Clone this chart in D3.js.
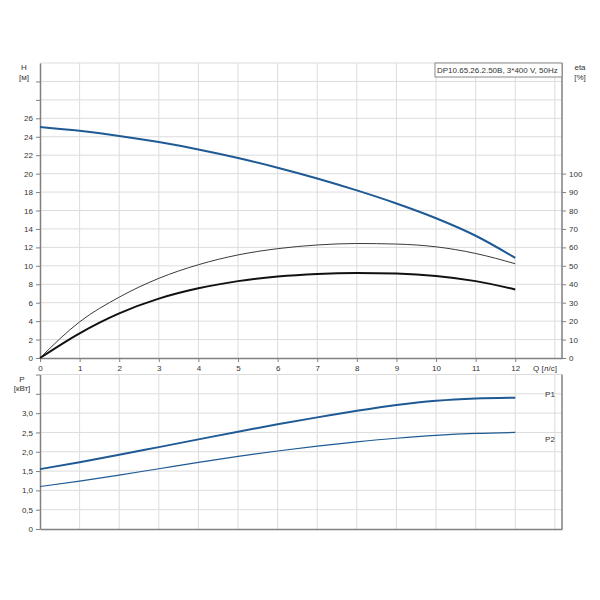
<!DOCTYPE html>
<html><head><meta charset="utf-8">
<script src="https://cdn.jsdelivr.net/npm/d3@7"></script>
<style>
body{margin:0;background:#fff;}
svg{display:block;font-family:"Liberation Sans",Arial,sans-serif;}
text{fill:#333;font-size:8px;}
</style></head><body>
<svg id="c" width="600" height="600"></svg>
<script>
const Q    = [0,1,2,3,4,5,6,7,8,9,10,11,12];
const H    = [25.06,24.64,24.09,23.42,22.62,21.69,20.64,19.47,18.18,16.76,15.16,13.26,10.86];
const etaPump  = [0,19.6,33.0,43.2,50.6,55.9,59.3,61.3,62.1,61.8,60.3,56.7,51.1];
const etaTotal = [0,13.4,24.2,32.2,37.8,41.7,44.2,45.6,46.1,45.8,44.5,41.7,37.2];
const P1   = [1.55,1.73,1.92,2.12,2.32,2.52,2.71,2.89,3.06,3.21,3.32,3.38,3.40];
const P2   = [1.10,1.24,1.395,1.56,1.725,1.88,2.02,2.145,2.255,2.35,2.425,2.475,2.50];
const qTicks = [0,1,2,3,4,5,6,7,8,9,10,11,12];
const etaTicks = [0,10,20,30,40,50,60,70,80,90,100];
const pTicks = [0,0.5,1,1.5,2,2.5,3];
const pLabels = ["0","0,5","1,0","1,5","2,0","2,5","3,0"];
const title = "DP10.65.26.2.50B, 3*400 V, 50Hz";

const svg = d3.select("#c");
const x = d3.scaleLinear().domain([0,13.18]).range([40,562]);
const yH = d3.scaleLinear().domain([0,32]).range([358,63]);
const yE = d3.scaleLinear().domain([0,160]).range([358,63]);
const yP = d3.scaleLinear().domain([0,4]).range([529,374.5]);
const grid = "#dcdcdc", axisC = "#808080", blue = "#1f5a94";

// grids
const g = svg.append("g");
const vq = d3.range(1,14);
g.selectAll(".vt").data(vq).join("line").attr("x1",d=>x(d)).attr("x2",d=>x(d)).attr("y1",yH(32)).attr("y2",yH(0)).attr("stroke",grid);
g.selectAll(".vb").data(vq).join("line").attr("x1",d=>x(d)).attr("x2",d=>x(d)).attr("y1",yP(4)).attr("y2",yP(0)).attr("stroke",grid);
g.selectAll(".ht").data(d3.range(2,33,2)).join("line").attr("x1",x(0)).attr("x2",x.range()[1]).attr("y1",d=>yH(d)).attr("y2",d=>yH(d)).attr("stroke",grid);
g.selectAll(".hb").data(d3.range(0.5,4.01,0.5)).join("line").attr("x1",x(0)).attr("x2",x.range()[1]).attr("y1",d=>yP(d)).attr("y2",d=>yP(d)).attr("stroke",grid);

function styleAxis(sel){
  sel.selectAll("path").attr("stroke",axisC).attr("stroke-width",1.5);
  sel.selectAll("line").attr("stroke",axisC);
  sel.selectAll("text").attr("fill","#333").style("font-size","8px").style("font-family","Liberation Sans, Arial, sans-serif");
}
// top plot axes
svg.append("g").attr("transform","translate(40,0)")
  .call(d3.axisLeft(yH).tickValues(d3.range(0,32,2)).tickFormat(d=>d<=26?d:"").tickSize(4).tickSizeOuter(0)).call(styleAxis);
svg.append("g").attr("transform","translate(0,358)")
  .call(d3.axisBottom(x).tickValues(qTicks).tickSize(4).tickSizeOuter(0).tickFormat(d3.format("d"))).call(styleAxis);
svg.append("g").attr("transform","translate(562,0)")
  .call(d3.axisRight(yE).tickValues(etaTicks).tickSize(4).tickSizeOuter(0)).call(styleAxis)
  .select("path").attr("d",`M0,${yE(0)}V${yH(32)}`);
// bottom plot axes
svg.append("g").attr("transform","translate(40,0)")
  .call(d3.axisLeft(yP).tickValues([0,0.5,1,1.5,2,2.5,3,3.5,4]).tickFormat(d=>{const i=pTicks.indexOf(d);return i>=0?pLabels[i]:"";}).tickSize(4).tickSizeOuter(0)).call(styleAxis);
svg.append("g").attr("transform","translate(0,529)")
  .call(d3.axisBottom(x).tickValues([]).tickSizeOuter(0)).call(styleAxis);
svg.append("line").attr("x1",562).attr("x2",562).attr("y1",yP(4)).attr("y2",yP(0)).attr("stroke",axisC).attr("stroke-width",1.5);

// curves
const line = (ys, sc) => d3.line().x((d,i)=>x(Q[i])).y(d=>sc(d)).curve(d3.curveMonotoneX)(ys);
svg.append("path").attr("d",line(etaPump,yE)).attr("fill","none").attr("stroke","#3a3a3a").attr("stroke-width",1);
svg.append("path").attr("d",line(etaTotal,yE)).attr("fill","none").attr("stroke","#111").attr("stroke-width",2);
svg.append("path").attr("d",line(H,yH)).attr("fill","none").attr("stroke",blue).attr("stroke-width",2);
svg.append("path").attr("d",line(P1,yP)).attr("fill","none").attr("stroke",blue).attr("stroke-width",2);
svg.append("path").attr("d",line(P2,yP)).attr("fill","none").attr("stroke",blue).attr("stroke-width",1.2);

// labels
const t = (xx,yy,s,anchor="start",col="#333")=>svg.append("text").attr("x",xx).attr("y",yy).attr("text-anchor",anchor).attr("fill",col).text(s);
t(24,70,"H","middle"); t(24,80,"[м]","middle");
t(580,70,"eta","middle"); t(580,80,"[%]","middle");
t(22,382,"P","middle"); t(22,391,"[кВт]","middle");
t(545,371,"Q [л/с]","middle");
t(550,397,"P1","middle","#4a6f9a"); t(550,442,"P2","middle","#4a6f9a");
// title box
const tb = svg.append("g");
const tt = tb.append("text").attr("x",437).attr("y",73).text(title);
const bb = tt.node().getBBox();
tb.insert("rect","text").attr("x",bb.x-2).attr("y",63).attr("width",562-(bb.x-2)).attr("height",14).attr("fill","#fff").attr("stroke","#888");
</script></body></html>
